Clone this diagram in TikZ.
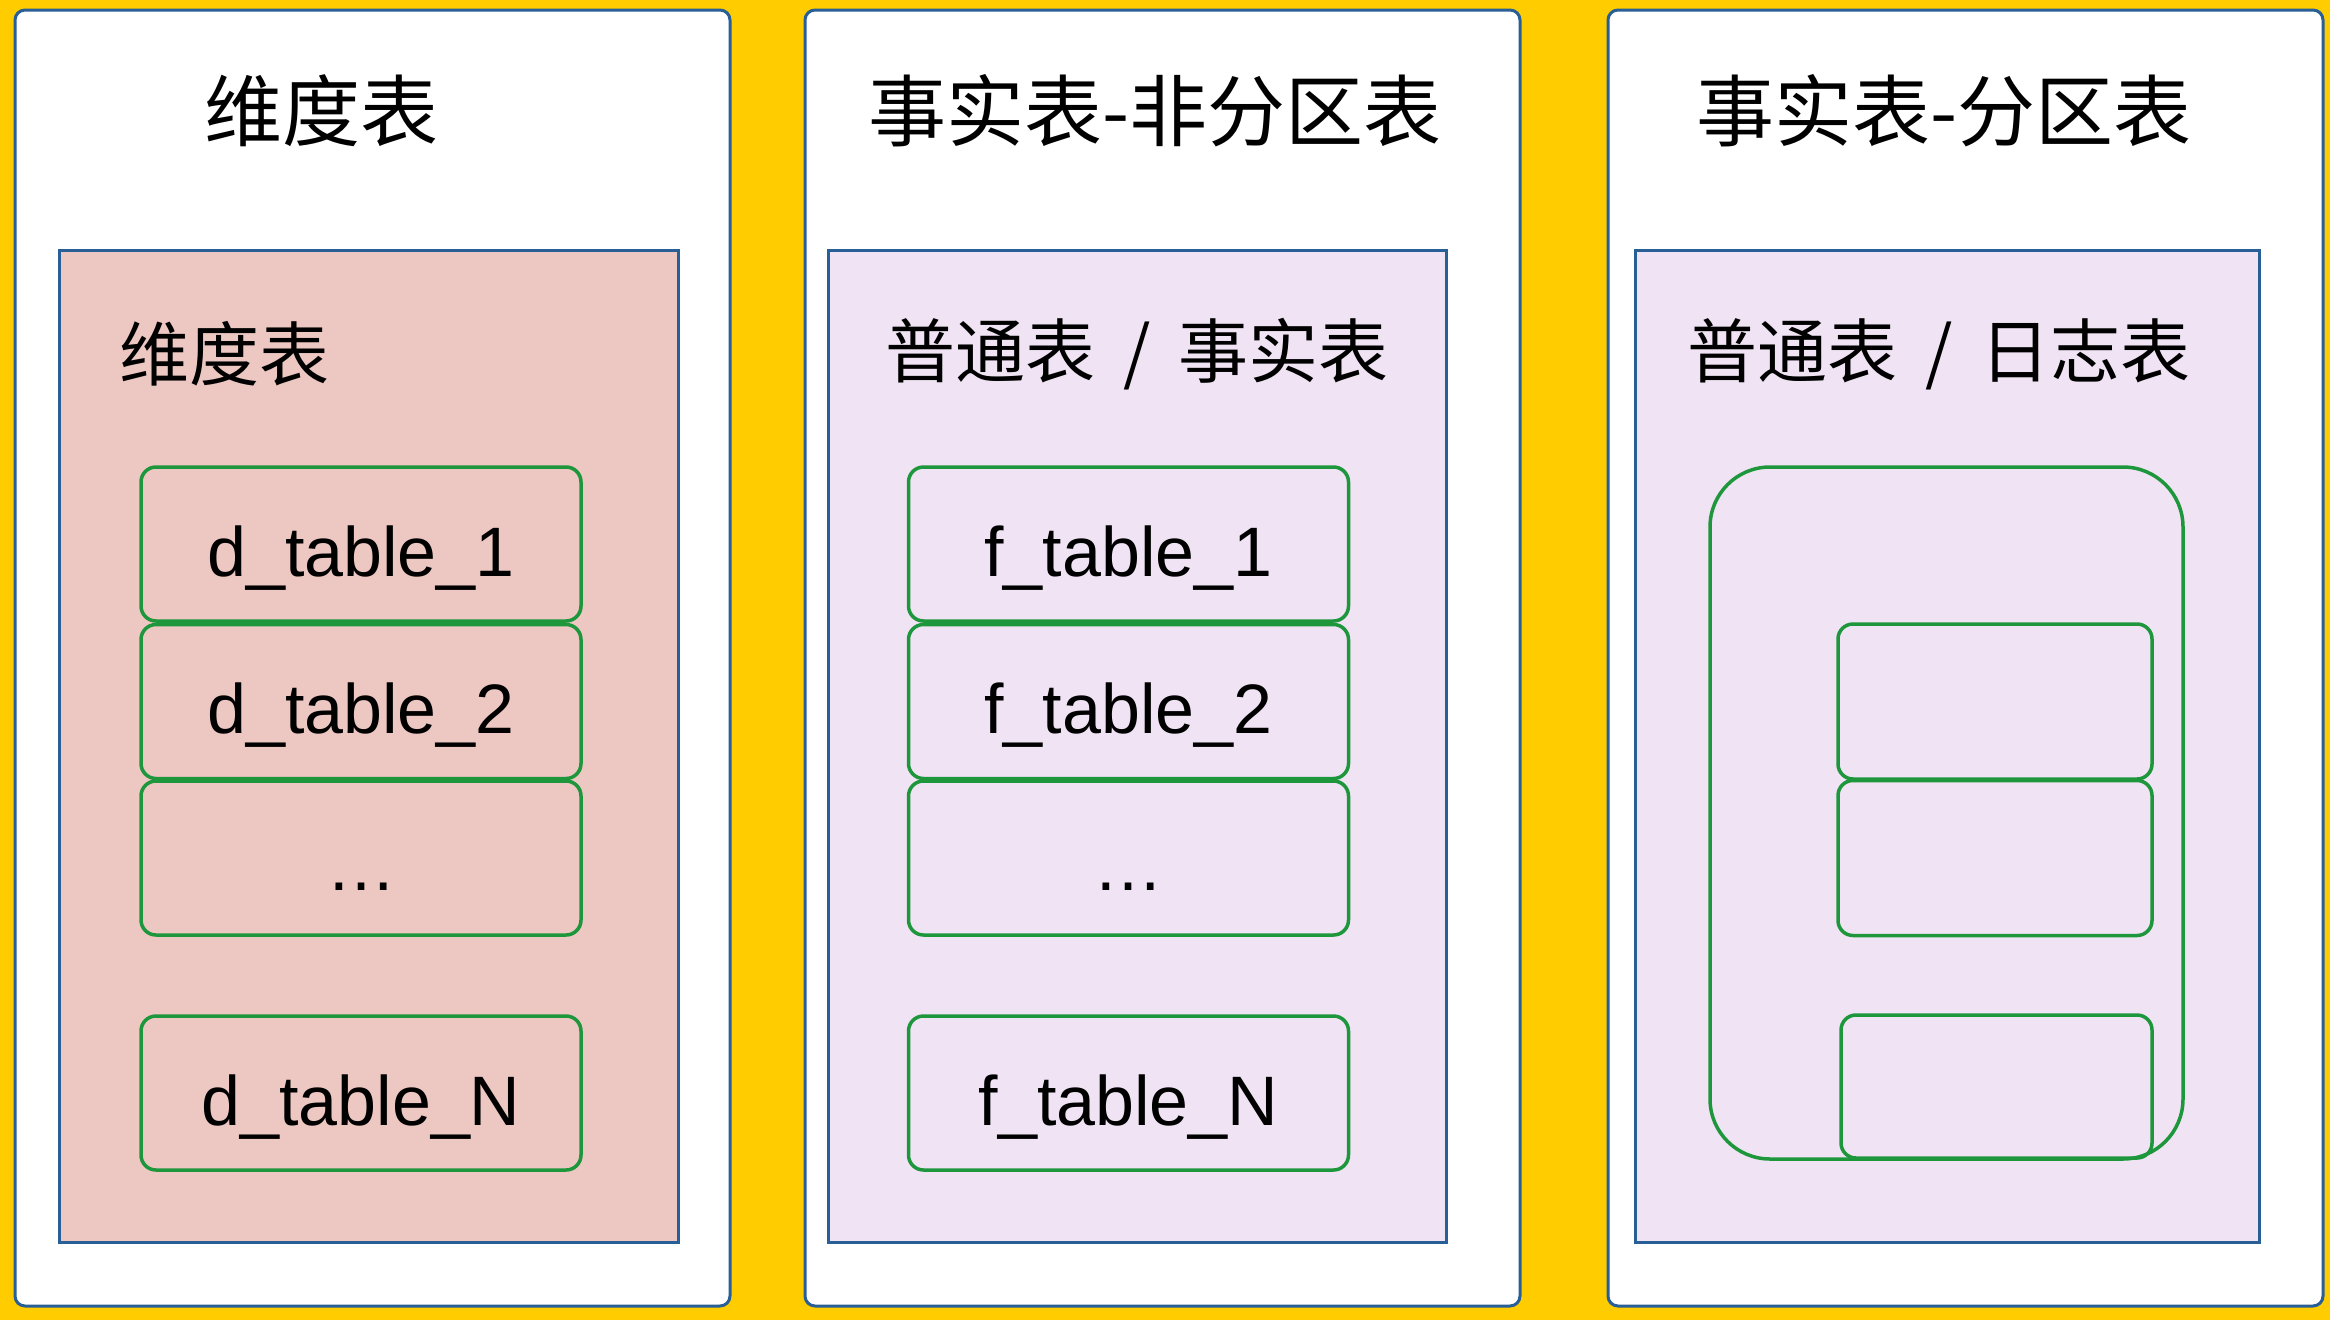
\documentclass[tikz,border=0pt]{standalone}
\usepackage{fontspec}
\setmainfont{Liberation Sans}
\newfontfamily\cjk{Noto Sans CJK SC}
\definecolor{bgyellow}{RGB}{255,204,0}
\definecolor{panelblue}{RGB}{40,95,150}
\definecolor{pinkfill}{RGB}{237,199,193}
\definecolor{lavfill}{RGB}{240,228,244}
\definecolor{tblgreen}{RGB}{30,150,60}
\newcommand{\slashsep}{\hspace{12pt} / \hspace{12pt}}
\begin{document}
\begin{tikzpicture}[x=1pt,y=-1pt,
  panel/.style={draw=panelblue,line width=3pt,fill=white,rounded corners=10pt,inner sep=0pt,minimum width=715pt,minimum height=1296pt},
  inner/.style={draw=panelblue,line width=3pt,inner sep=0pt,minimum height=992pt},
  tbl/.style={draw=tblgreen,line width=3.5pt,rounded corners=15pt,inner sep=0pt,minimum width=440pt,minimum height=154pt,text height=64pt,text depth=0pt,font=\fontsize{70}{80}\selectfont},
  ttl/.style={font=\cjk\fontsize{78}{90}\selectfont,inner sep=0pt},
  sub/.style={font=\cjk\fontsize{70}{80}\selectfont,inner sep=0pt}]
\useasboundingbox (0,0) rectangle (2330,1320);
\fill[bgyellow] (0,0) rectangle (2330,1320);
% panels
\node[panel] (p1) at (372.5,658) {};
\node[panel] (p2) at (1162.5,658) {};
\node[panel] (p3) at (1965.5,658) {};
% titles
\node[ttl] (t1) at (321,111) {维度表};
\node[ttl] (t2) at (1155,111) {事实表-非分区表};
\node[ttl] (t3) at (1944,111) {事实表-分区表};
% inner boxes
\node[inner,fill=pinkfill,minimum width=619pt] (i1) at (368.5,746) {};
\node[inner,fill=lavfill,minimum width=618pt] (i2) at (1137,746) {};
\node[inner,fill=lavfill,minimum width=624pt] (i3) at (1947,746) {};
% subtitles
\node[sub] (s1) at (224,354) {维度表};
\node[sub] (s2) at (1137,354) {普通表\slashsep 事实表};
\node[sub] (s3) at (1939,354) {普通表\slashsep 日志表};
% panel 1 tables
\node[tbl] (d1) at (361,544) {d\_table\_1};
\node[tbl] (d2) at (361,701.5) {d\_table\_2};
\node[tbl] (d3) at (361,858) {…};
\node[tbl] (dn) at (361,1093) {d\_table\_N};
% panel 2 tables
\node[tbl] (f1) at (1128.5,544) {f\_table\_1};
\node[tbl] (f2) at (1128.5,701.5) {f\_table\_2};
\node[tbl] (f3) at (1128.5,858) {…};
\node[tbl] (fn) at (1128.5,1093) {f\_table\_N};
% panel 3 partitions
\node[tbl,rounded corners=60pt,minimum width=473pt,minimum height=692pt] (big) at (1946.5,813) {};
\node[tbl,minimum width=314pt,minimum height=155pt] (q1) at (1995,701.5) {};
\node[tbl,minimum width=314pt,minimum height=155pt] (q2) at (1995,858) {};
\node[tbl,minimum width=311pt,minimum height=143pt] (q3) at (1996.5,1086.5) {};
\end{tikzpicture}
\end{document}
